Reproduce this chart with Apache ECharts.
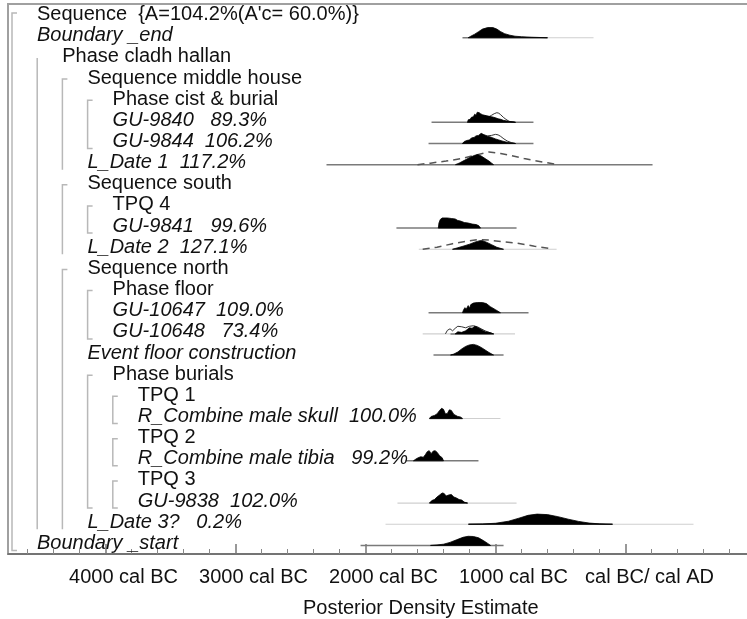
<!DOCTYPE html>
<html>
<head>
<meta charset="utf-8">
<script src="https://cdn.jsdelivr.net/npm/echarts@6/dist/echarts.min.js"></script>
<style>html,body{margin:0;padding:0;background:#fff;}#c{width:747px;height:619px;}</style>
</head>
<body>
<div id="c"></div>
<script>
// ---------- row labels and nesting ----------
const rowLabels = [
  "Sequence  {A=104.2%(A'c= 60.0%)}",
  "Boundary _end",
  "Phase cladh hallan",
  "Sequence middle house",
  "Phase cist & burial",
  "GU-9840   89.3%",
  "GU-9844  106.2%",
  "L_Date 1  117.2%",
  "Sequence south",
  "TPQ 4",
  "GU-9841   99.6%",
  "L_Date 2  127.1%",
  "Sequence north",
  "Phase floor",
  "GU-10647  109.0%",
  "GU-10648   73.4%",
  "Event floor construction",
  "Phase burials",
  "TPQ 1",
  "R_Combine male skull  100.0%",
  "TPQ 2",
  "R_Combine male tibia   99.2%",
  "TPQ 3",
  "GU-9838  102.0%",
  "L_Date 3?   0.2%",
  "Boundary _start"
];
const rowDepth = [0,0,1,2,3,3,3,2,2,3,3,2,2,3,3,3,2,3,4,4,4,4,4,4,2,0];
// groups: [first row, last row, bracket kind]
const groups = [
  [0,25,'B'],[2,24,'L'],[3,7,'S'],[4,6,'P'],[8,11,'S'],[9,10,'P'],
  [12,24,'S'],[13,15,'P'],[17,23,'P'],[18,19,'P'],[20,21,'P'],[22,23,'P']
];

// ---------- axis ticks ----------
const majorTicks = [-4000,-3000,-2000,-1000,0];
const majorTickLabels = ['4000 cal BC','3000 cal BC','2000 cal BC','1000 cal BC','cal BC/ cal AD'];
const minorTicks = [-4600,-4400,-4200,-3800,-3600,-3400,-3200,-2800,-2600,-2400,-2200,-1800,-1600,-1400,-1200,-800,-600,-400,-200,200,400,600,800,1200,1400];

// ---------- distributions: [year, relative density] ----------
const postBoundaryEnd = [[-1210,0],[-1190,0.15],[-1160,0.35],[-1130,0.6],[-1100,0.85],[-1060,1],[-1020,1],[-990,0.85],[-960,0.6],[-930,0.4],[-890,0.25],[-850,0.15],[-800,0.1],[-720,0.05],[-600,0]];
const postGU9840 = [[-1215,0],[-1210,0.25],[-1195,0.3],[-1185,0.5],[-1170,0.55],[-1160,0.8],[-1150,0.7],[-1140,1.0],[-1125,0.95],[-1115,0.85],[-1100,0.75],[-1085,0.7],[-1070,0.65],[-1050,0.6],[-1030,0.55],[-1000,0.45],[-980,0.35],[-960,0.3],[-940,0.2],[-900,0.1],[-860,0.05],[-846,0]];
const priorGU9840 = [[-1215,0],[-1190,0.3],[-1150,0.55],[-1110,0.6],[-1080,0.65],[-1050,0.55],[-1030,0.7],[-1010,0.85],[-990,0.95],[-975,0.9],[-960,0.75],[-940,0.5],[-920,0.3],[-895,0.1],[-870,0.02],[-846,0]];
const postGU9844 = [[-1254,0],[-1240,0.2],[-1220,0.3],[-1200,0.35],[-1185,0.55],[-1165,0.6],[-1150,0.75],[-1130,0.8],[-1110,1.0],[-1095,0.9],[-1075,0.8],[-1060,0.7],[-1040,0.65],[-1020,0.55],[-1000,0.45],[-975,0.35],[-950,0.25],[-920,0.15],[-880,0.06],[-846,0]];
const priorGU9844 = [[-1254,0],[-1200,0.3],[-1150,0.55],[-1100,0.7],[-1060,0.75],[-1030,0.8],[-1000,0.9],[-980,0.85],[-960,0.7],[-935,0.45],[-910,0.25],[-880,0.1],[-846,0]];
const postLDate1 = [[-1308,0],[-1280,0.15],[-1250,0.35],[-1220,0.55],[-1190,0.75],[-1160,0.92],[-1138,1],[-1110,0.85],[-1080,0.6],[-1050,0.35],[-1030,0.15],[-1015,0]];
const priorLDate1 = [[-1600,0],[-1500,0.15],[-1380,0.35],[-1260,0.6],[-1150,0.95],[-1050,1.25],[-960,1.1],[-880,0.9],[-780,0.6],[-700,0.4],[-600,0.18],[-515,0]];
const postGU9841 = [[-1440,0],[-1435,0.5],[-1425,0.85],[-1410,1.0],[-1370,1.0],[-1340,0.95],[-1310,0.9],[-1290,0.75],[-1270,0.7],[-1240,0.55],[-1210,0.5],[-1180,0.4],[-1150,0.35],[-1130,0.25],[-1115,0]];
const postLDate2 = [[-1331,0],[-1290,0.15],[-1250,0.3],[-1200,0.5],[-1160,0.7],[-1120,0.85],[-1100,0.85],[-1070,0.7],[-1030,0.45],[-990,0.2],[-938,0]];
const priorLDate2 = [[-1560,0],[-1450,0.2],[-1330,0.55],[-1220,0.8],[-1140,0.95],[-1050,0.9],[-950,0.75],[-830,0.6],[-700,0.3],[-562,0.05]];
const postGU10647 = [[-1254,0],[-1245,0.3],[-1235,0.5],[-1225,0.35],[-1210,0.7],[-1200,0.45],[-1190,0.8],[-1170,0.95],[-1140,1.0],[-1100,1.0],[-1070,0.9],[-1040,0.6],[-1000,0.3],[-962,0]];
const postGU10648 = [[-1310,0],[-1290,0.2],[-1260,0.15],[-1230,0.3],[-1200,0.6],[-1180,0.55],[-1160,0.75],[-1140,0.65],[-1120,0.5],[-1100,0.35],[-1080,0.2],[-1050,0.15],[-1015,0]];
const priorGU10648 = [[-1385,0],[-1370,0.35],[-1350,0.5],[-1330,0.3],[-1310,0.55],[-1290,0.75],[-1260,0.7],[-1230,0.6],[-1200,0.75],[-1170,0.8],[-1140,0.7],[-1110,0.5],[-1080,0.3],[-1050,0.15],[-1015,0]];
const postEventFloor = [[-1346,0],[-1320,0.1],[-1290,0.3],[-1260,0.6],[-1230,0.85],[-1200,1.0],[-1170,1.05],[-1140,0.95],[-1110,0.75],[-1080,0.5],[-1050,0.25],[-1015,0]];
const postSkull = [[-1508,0],[-1495,0.2],[-1470,0.3],[-1450,0.45],[-1430,0.8],[-1415,1.0],[-1400,0.9],[-1385,0.45],[-1370,0.5],[-1355,0.85],[-1340,0.8],[-1320,0.4],[-1290,0.2],[-1270,0.15],[-1254,0]];
const postTibia = [[-1631,0],[-1615,0.15],[-1595,0.3],[-1575,0.4],[-1555,0.35],[-1540,0.6],[-1525,0.9],[-1510,1.0],[-1495,0.7],[-1480,0.95],[-1465,1.0],[-1450,0.85],[-1430,0.5],[-1410,0.3],[-1400,0]];
const postGU9838 = [[-1508,0],[-1490,0.25],[-1470,0.35],[-1450,0.6],[-1430,0.8],[-1410,1.0],[-1395,0.95],[-1380,0.7],[-1360,0.8],[-1340,0.85],[-1320,0.6],[-1300,0.5],[-1280,0.35],[-1260,0.3],[-1240,0.1],[-1215,0]];
const postLDate3 = [[-1208,0],[-1100,0.03],[-1000,0.1],[-900,0.3],[-820,0.6],[-750,0.88],[-680,1.0],[-600,0.95],[-520,0.75],[-440,0.5],[-360,0.28],[-280,0.12],[-200,0.04],[-100,0]];
const postBoundaryStart = [[-1500,0],[-1450,0.05],[-1400,0.12],[-1350,0.3],[-1300,0.55],[-1250,0.8],[-1210,0.9],[-1170,0.88],[-1130,0.75],[-1090,0.45],[-1060,0.2],[-1038,0]];

// [row, posterior]
const posteriors = [
  [1,postBoundaryEnd],[5,postGU9840],[6,postGU9844],[7,postLDate1],[10,postGU9841],[11,postLDate2],
  [14,postGU10647],[15,postGU10648],[16,postEventFloor],[19,postSkull],[21,postTibia],[23,postGU9838],
  [24,postLDate3],[25,postBoundaryStart]
];
// [row, prior] solid outlines and dashed (likelihood) outlines
const priorsSolid = [[5,priorGU9840],[6,priorGU9844],[15,priorGU10648]];
const priorsDashed = [[7,priorLDate1],[11,priorLDate2]];

// range lines [row, from, to]
const rangeDark = [
  [1,-1254,-600],[5,-1492,-708],[6,-1515,-708],[7,-2300,208],[10,-1762,-838],
  [14,-1515,-746],[15,-1346,-1015],[16,-1477,-938],[19,-1508,-1254],[21,-1692,-1131],
  [23,-1508,-1215],[24,-1208,-100],[25,-2038,-938]
];
const rangeLight = [
  [1,-600,-246],[11,-1590,-530],[15,-1560,-850],[19,-1254,-962],[23,-1754,-838],[24,-1846,523]
];

// ---------- chart ----------
const FONT = '"Liberation Sans", Arial, Helvetica, sans-serif';
const chart = echarts.init(document.getElementById('c'));

function textX(api, depth) {
  const left = api.coord([-4750, 0])[0];
  return left + 29 + depth * 25.2;
}

function distShape(api, row, pts) {
  const c = api.coord([0, row]);
  const band = api.size([0, 1])[1];
  const base = c[1] + 2;
  const h = band * 0.48;
  return pts.map(p => [api.coord([p[0], row])[0], base - p[1] * h]);
}

const option = {
  animation: false,
  backgroundColor: '#fff',
  grid: {left: 8, top: 4, width: 825.5, height: 550, show: true, borderColor: '#a0a0a0', borderWidth: 2,
    backgroundColor: 'transparent', outerBoundsMode: 'none', containLabel: false},
  xAxis: [{
    type: 'value', min: -4750, max: 1600, position: 'bottom',
    axisLine: {show: true, lineStyle: {color: '#666', width: 1.5}},
    axisTick: {show: true, inside: true, length: 10, customValues: majorTicks, lineStyle: {color: '#777', width: 1.5}},
    axisLabel: {
      show: true, customValues: majorTicks, margin: 13,
      formatter: function (v) {
        const i = majorTicks.indexOf(v);
        if (i < 0) return '';
        return (v === 0 ? '{z|' : '{a|') + majorTickLabels[i] + '}';
      },
      rich: {
        a: {fontSize: 20, fontFamily: FONT, color: '#111', padding: [0, 0, 0, 36]},
        z: {fontSize: 20, fontFamily: FONT, color: '#111', padding: [0, 0, 0, 48]}
      }
    },
    splitLine: {show: false},
    name: 'Posterior Density Estimate', nameLocation: 'middle', nameGap: 44,
    nameTextStyle: {fontSize: 20, fontFamily: FONT, color: '#111'}
  }, {
    type: 'value', min: -4750, max: 1600, position: 'bottom',
    axisLine: {show: false},
    axisTick: {show: true, inside: true, length: 5, customValues: minorTicks, lineStyle: {color: '#888', width: 1}},
    axisLabel: {show: false},
    splitLine: {show: false}
  }],
  yAxis: {
    type: 'category', data: rowLabels, inverse: true, boundaryGap: true,
    axisLine: {show: false}, axisTick: {show: false}, axisLabel: {show: false}, splitLine: {show: false}
  },
  series: [
    {
      type: 'custom', clip: false, silent: true,
      data: groups.map(g => [-4750, g[0]]),
      renderItem: function (params, api) {
        const g = groups[params.dataIndex];
        const x = textX(api, rowDepth[g[0]]) - 25;
        const yTop = api.coord([0, g[0]])[1] + (g[2] === 'B' ? -1.5 : 1);
        const yBot = api.coord([0, g[1]])[1] + 7;
        let pts;
        if (g[2] === 'S') pts = [[x + 5, yTop], [x, yTop], [x, yBot]];
        else if (g[2] === 'L') pts = [[x, yTop], [x, yBot]];
        else pts = [[x + 5, yTop], [x, yTop], [x, yBot], [x + 5, yBot]];
        return {type: 'polyline', shape: {points: pts}, style: {stroke: '#b8b8b8', lineWidth: 1.5, fill: null}};
      }
    },
    {
      type: 'custom', silent: true,
      data: rangeLight.map(r => [r[1], r[0]]),
      renderItem: function (params, api) {
        const r = rangeLight[params.dataIndex];
        const y = api.coord([0, r[0]])[1] + 2;
        return {type: 'line', shape: {x1: api.coord([r[1], r[0]])[0], y1: y, x2: api.coord([r[2], r[0]])[0], y2: y},
          style: {stroke: '#cfcfcf', lineWidth: 1.2}};
      }
    },
    {
      type: 'custom', silent: true,
      data: rangeDark.map(r => [r[1], r[0]]),
      renderItem: function (params, api) {
        const r = rangeDark[params.dataIndex];
        const y = api.coord([0, r[0]])[1] + 2;
        return {type: 'line', shape: {x1: api.coord([r[1], r[0]])[0], y1: y, x2: api.coord([r[2], r[0]])[0], y2: y},
          style: {stroke: '#7a7a7a', lineWidth: 1.5}};
      }
    },
    {
      type: 'custom', silent: true,
      data: priorsDashed.map(p => [p[1][0][0], p[0]]),
      renderItem: function (params, api) {
        const p = priorsDashed[params.dataIndex];
        return {type: 'polyline', shape: {points: distShape(api, p[0], p[1])},
          style: {stroke: '#555', lineWidth: 1.5, lineDash: [7, 5], fill: null}};
      }
    },
    {
      type: 'custom', silent: true,
      data: priorsSolid.map(p => [p[1][0][0], p[0]]),
      renderItem: function (params, api) {
        const p = priorsSolid[params.dataIndex];
        return {type: 'polyline', shape: {points: distShape(api, p[0], p[1])},
          style: {stroke: '#333', lineWidth: 1, fill: null}};
      }
    },
    {
      type: 'custom', silent: true,
      data: posteriors.map(p => [p[1][0][0], p[0]]),
      renderItem: function (params, api) {
        const p = posteriors[params.dataIndex];
        return {type: 'polygon', shape: {points: distShape(api, p[0], p[1])},
          style: {fill: '#000', stroke: '#000', lineWidth: 0.8}};
      }
    },
    {
      type: 'custom', clip: false, silent: true,
      data: rowLabels.map((t, i) => [-4750, i]),
      renderItem: function (params, api) {
        const i = params.dataIndex;
        const italic = posteriors.some(p => p[0] === i);
        const y = api.coord([0, i])[1];
        return {type: 'text', x: textX(api, rowDepth[i]), y: y,
          style: {text: rowLabels[i], fontSize: 20, fontFamily: FONT, fontStyle: italic ? 'italic' : 'normal',
            fill: '#111', verticalAlign: 'middle', align: 'left'}};
      }
    }
  ]
};
chart.setOption(option);
</script>
</body>
</html>
